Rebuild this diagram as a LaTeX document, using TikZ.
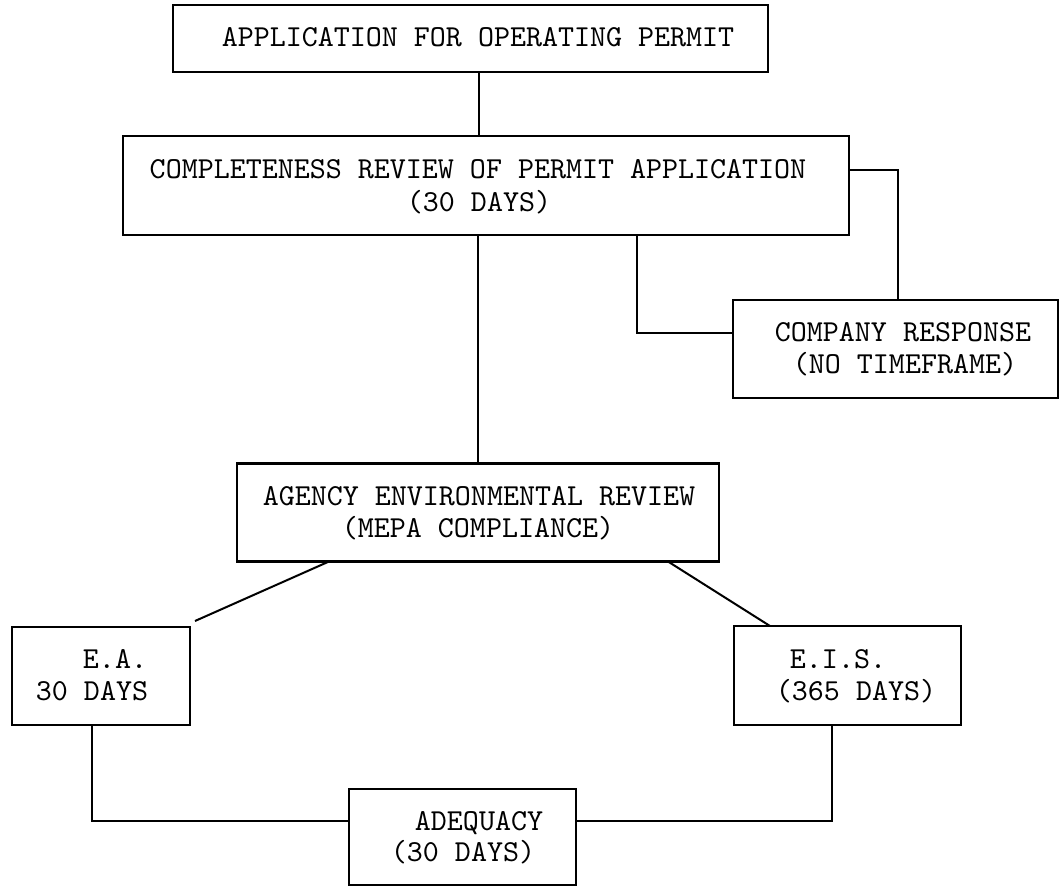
\documentclass[tikz,border=0pt]{standalone}
\usepackage{fontspec}
\newfontfamily\tw{lmmono10-regular.otf}
\usetikzlibrary{calc}
\tikzset{
  box/.style={draw=black, line width=2.4pt, rectangle, inner sep=0pt, outer sep=0pt},
  txt/.style={font=\tw\fontsize{30.5}{32}\selectfont, inner sep=0pt, anchor=base, text=black},
  link/.style={draw=black, line width=2pt},
}
\begin{document}
\begin{tikzpicture}[x=1pt,y=-1pt]
\useasboundingbox[fill=white] (0,0) rectangle (1060,886);
% boxes
\node[box, minimum width=595pt, minimum height=67pt] (app) at (470.5,38.5) {};
\node[box, minimum width=726pt, minimum height=99pt] (comp) at (486,185.5) {};
\node[box, minimum width=325pt, minimum height=98pt] (resp) at (895.5,349) {};
\node[box, minimum width=482pt, minimum height=98pt] (agency) at (478,512.5) {};
\node[box, minimum width=178pt, minimum height=98pt] (ea) at (101,676) {};
\node[box, minimum width=227pt, minimum height=99pt] (eis) at (847.5,675.5) {};
\node[box, minimum width=227pt, minimum height=96pt] (adq) at (462.5,837) {};
% texts
\node[txt] (t1) at (478,46.5) {APPLICATION FOR OPERATING PERMIT};
\node[txt] (t2a) at (478,178.5) {COMPLETENESS REVIEW OF PERMIT APPLICATION};
\node[txt] (t2b) at (479,211.5) {(30 DAYS)};
\node[txt] (t3a) at (903,341.5) {COMPANY RESPONSE};
\node[txt] (t3b) at (905,373.5) {(NO TIMEFRAME)};
\node[txt] (t4a) at (479,505.5) {AGENCY ENVIRONMENTAL REVIEW};
\node[txt] (t4b) at (478,537.5) {(MEPA COMPLIANCE)};
\node[txt] (t5a) at (115,668.5) {E.A.};
\node[txt] (t5b) at (92,700.5) {30 DAYS};
\node[txt] (t6a) at (838,668.5) {E.I.S.};
\node[txt] (t6b) at (856,700.5) {(365 DAYS)};
\node[txt] (t7a) at (479,830.5) {ADEQUACY};
\node[txt] (t7b) at (463,861.5) {(30 DAYS)};
% helper coordinates
\coordinate (c0) at (479,0);
\coordinate (c1) at (637,333);
\coordinate (c2) at (898,170);
\coordinate (c3) at (92,821);
\coordinate (c4) at (832,821);
% connectors
\draw[link] (app.south -| c0) -- (comp.north -| c0);
\draw[link] (comp.south -| agency.north) -- (agency.north);
\draw[link] (comp.south -| c1) |- (resp.west |- c1);
\draw[link] (comp.east |- c2) -| (resp.north -| c2);
\draw[link] ($(agency.south west)+(92,0)$) -- ($(ea.north east)+(5,-6)$);
\draw[link] ($(agency.south east)+(-51,0)$) -- ($(eis.north west)+(36,0)$);
\draw[link] (ea.south -| c3) |- (adq.west |- c3);
\draw[link] (adq.east |- c4) -| (eis.south -| c4);
\end{tikzpicture}
\end{document}
